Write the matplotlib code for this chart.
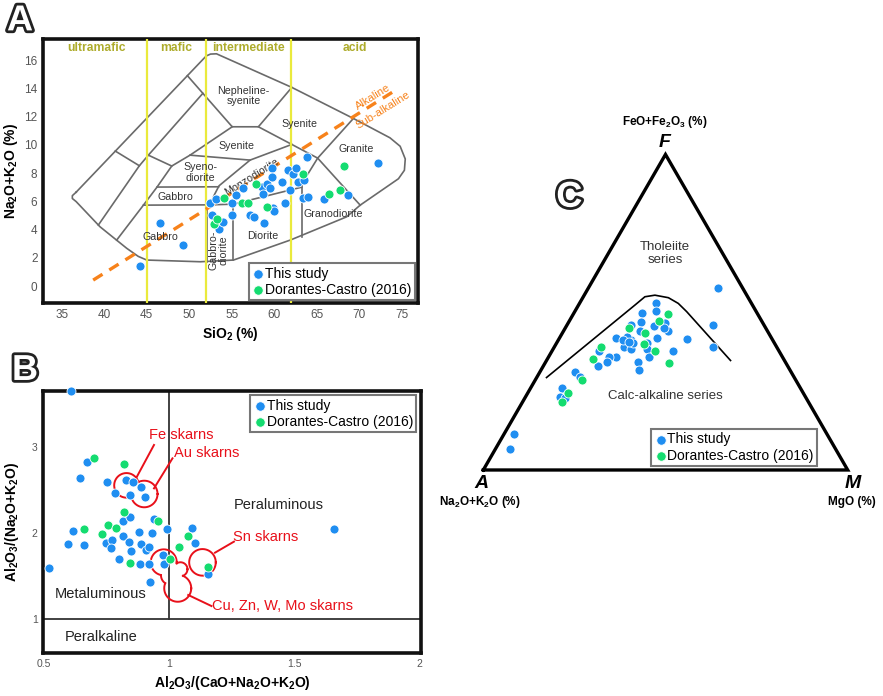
import numpy as np
import matplotlib
matplotlib.use("Agg")
import matplotlib.pyplot as plt
import matplotlib.patheffects as pe

plt.rcParams['font.family'] = ['Liberation Sans', 'DejaVu Sans']
plt.rcParams['mathtext.fontset'] = 'custom'
plt.rcParams['mathtext.rm'] = 'Liberation Sans'
plt.rcParams['mathtext.bf'] = 'Liberation Sans:bold'
plt.rcParams['mathtext.it'] = 'Liberation Sans:italic'

BLUE = '#1f8ef1'
GREEN = '#14dc70'
RED = '#e8101a'
ORANGE = '#f7821b'
YELLOW = '#eaea3c'
OLIVE = '#aeac2c'
LINE = '#6a6a6a'

# ---------------- data ----------------
# A: total alkali vs silica
tas_blue_sio2 = [44.2, 46.6, 49.3, 52.4, 53.15, 52.65, 53.55, 53.95, 55.0, 55.0,
                 55.5, 56.3, 57.15, 57.65, 58.75, 58.5, 58.7, 59.2, 59.45, 59.75,
                 59.75, 59.8, 60.0, 60.9, 61.25, 61.6, 61.85, 62.25, 62.6, 62.75,
                 63.55, 63.4, 63.9, 64.0, 65.8, 68.65, 72.2]
tas_blue_alk = [1.44, 4.44, 2.9, 5.85, 6.14, 5.0, 4.01, 4.55, 5.9, 5.05,
                6.44, 6.94, 5.03, 4.88, 4.48, 7.03, 6.49, 7.25, 6.95, 8.38,
                7.69, 5.5, 5.3, 7.4, 5.9, 8.21, 6.82, 7.95, 8.33, 7.34,
                7.52, 6.21, 9.11, 6.28, 6.16, 6.46, 8.73]
tas_green_sio2 = [54.05, 52.95, 53.3, 56.2, 56.95, 57.9, 59.1, 63.35, 66.45, 67.75, 68.2]
tas_green_alk = [6.23, 4.39, 4.72, 5.85, 5.87, 7.22, 5.57, 7.91, 6.51, 6.8, 8.52]

# TAS field boundaries (SiO2, Na2O+K2O)
tas_outer = [(36.7, 6.65), (52.0, 16.3), (52.5, 16.43), (53.2, 16.45), (62.06, 14.07),
             (69.3, 11.87), (73.6, 10.5), (74.8, 9.9), (75.4, 9.0), (75.3, 8.2),
             (74.6, 7.6), (70.1, 5.73), (68.5, 4.9), (61.9, 3.26), (55.2, 1.84),
             (51.3, 1.72), (45.0, 1.84), (44.0, 2.1), (42.65, 2.67), (39.5, 4.2),
             (36.7, 5.98), (36.25, 6.2), (36.25, 6.4), (36.7, 6.65)]
tas_inner = [
    [(49.78, 14.9), (55.05, 11.28), (58.13, 11.28), (62.06, 14.07)],
    [(58.13, 11.28), (62.06, 10.03), (65.1, 9.06), (69.3, 11.87)],
    [(65.1, 9.06), (70.1, 5.73)],
    [(55.05, 11.28), (50.09, 9.27), (47.94, 8.5), (46.21, 7.01), (44.61, 5.73), (41.47, 3.26)],
    [(51.6, 13.65), (45.19, 9.27), (44.13, 8.52), (39.31, 4.32)],
    [(41.3, 9.56), (44.13, 8.52)],
    [(45.19, 9.27), (47.94, 8.5)],
    [(50.09, 9.27), (57.15, 8.92), (62.06, 10.03)],
    [(57.15, 8.92), (53.5, 7.1), (52.9, 6.4), (52.5, 5.75)],
    [(46.21, 7.01), (53.45, 7.03)],
    [(44.61, 5.73), (52.5, 5.75), (55.2, 5.8), (63.2, 7.0)],
    [(55.2, 5.8), (55.2, 1.84)],
    [(52.06, 5.75), (52.06, 1.73)],
    [(63.2, 7.0), (63.2, 3.5)],
    [(65.1, 9.06), (63.4, 7.4), (63.2, 7.0)],
]
alk_line_sio2 = [38.7, 74.6]
alk_line_alk = [0.42, 14.0]
silica_limits = [45, 52, 62]

# B: Shand index
asi_blue_acnk = [0.607, 0.669, 0.643, 0.753, 0.785, 0.827, 0.856, 0.889, 0.845, 0.905,
                 0.816, 0.844, 0.939, 0.613, 0.594, 0.66, 0.749, 0.772, 0.766, 0.816,
                 0.84, 0.849, 0.8, 0.878, 0.886, 0.907, 0.92, 0.932, 0.991, 0.883,
                 0.919, 0.925, 0.975, 0.979, 1.093, 1.104, 1.156, 1.659, 0.52]
asi_blue_ank = [3.64, 2.822, 2.641, 2.592, 2.465, 2.614, 2.587, 2.529, 2.444, 2.421,
                2.139, 2.185, 2.165, 2.023, 1.871, 1.861, 1.89, 1.919, 1.832, 1.969,
                1.892, 1.791, 1.695, 2.01, 1.871, 1.799, 1.838, 2.0, 2.044, 1.637,
                1.646, 1.436, 1.745, 1.639, 2.056, 1.88, 1.527, 2.042, 1.6]
asi_green_acnk = [0.7, 0.82, 0.818, 0.756, 0.787, 0.732, 0.658, 0.955, 0.844, 1.003,
                  1.039, 1.074, 1.156]
asi_green_ank = [2.869, 2.805, 2.245, 2.095, 2.06, 1.985, 2.042, 2.143, 1.647, 1.701,
                 1.834, 1.965, 1.61]

# skarn fields: (A/CNK, A/NK, radius in px)
fe_au_fields = [(0.829, 2.552, 12.3), (0.90, 2.452, 13.3)]
sn_field = [(1.133, 1.66, 13.3)]
cu_field = [(0.978, 1.66, 13.0), (1.005, 1.51, 9.5), (1.045, 1.58, 7.0), (1.034, 1.36, 13.5)]

# C: AFM (percent)
afm_blue_F = [57.6, 46.0, 39.1, 41.4, 37.8, 52.8, 50.4, 49.7, 47.0, 45.7, 46.7, 44.2,
              44.9, 41.8, 44.2, 46.0, 41.2, 42.3, 41.8, 39.1, 38.3, 40.2, 40.2, 38.2,
              35.9, 34.1, 31.6, 35.7, 35.7, 34.1, 32.8, 37.8, 31.0, 29.6, 25.9, 23.0,
              22.7, 11.4, 6.6, 41.2, 40.7]
afm_blue_M = [35.7, 40.1, 43.4, 35.3, 33.1, 21.0, 22.2, 18.6, 19.9, 24.0, 26.5, 28.7,
              27.1, 26.9, 20.9, 17.5, 19.8, 18.2, 15.5, 19.1, 21.3, 21.1, 24.7, 25.7,
              27.5, 25.5, 26.9, 18.6, 16.7, 16.8, 15.0, 12.9, 9.7, 11.7, 8.6, 9.5,
              11.2, 2.7, 4.1, 17.8, 19.5]
afm_green_F = [49.3, 47.3, 43.5, 44.9, 39.8, 37.6, 33.8, 38.9, 35.1, 28.5, 24.5, 21.4]
afm_green_M = [26.1, 24.6, 22.7, 17.5, 24.2, 28.3, 34.1, 12.9, 12.5, 12.9, 11.1, 10.8]
afm_div_F = [29.3, 52.3, 54.9, 55.4, 54.6, 52.8, 50.2, 34.7]
afm_div_M = [2.7, 15.5, 16.9, 19.4, 23.5, 27.1, 30.7, 50.5]


def tern(F, M):
    F = np.asarray(F) / 100.0
    M = np.asarray(M) / 100.0
    return M + F / 2, F * np.sqrt(3) / 2


def union_outline(ax, circles, **kw):
    bb = ax.get_window_extent()
    x0, x1 = ax.get_xlim()
    y0, y1 = ax.get_ylim()
    sx = bb.width / (x1 - x0)
    sy = bb.height / (y1 - y0)
    t = np.linspace(0, 2 * np.pi, 721)
    for i, (cx, cy, r) in enumerate(circles):
        xs = cx + r * np.cos(t) / sx
        ys = cy + r * np.sin(t) / sy
        inside = np.zeros(t.size, bool)
        for j, (cx2, cy2, r2) in enumerate(circles):
            if j != i:
                inside |= ((xs - cx2) * sx) ** 2 + ((ys - cy2) * sy) ** 2 < r2 ** 2
        xs[inside] = np.nan
        ys[inside] = np.nan
        ax.plot(xs, ys, **kw)


def style_frame(ax):
    for s in ax.spines.values():
        s.set_linewidth(2.6)
        s.set_color('#111')
    ax.tick_params(length=0, labelcolor='#555', pad=4)


def add_legend(ax, **kw):
    leg = ax.legend(fontsize=10, frameon=True, fancybox=False, framealpha=1,
                    edgecolor='#777', handletextpad=0.05, handlelength=0.9,
                    borderpad=0.25, labelspacing=0.15, markerscale=1.05, **kw)
    leg.get_frame().set_linewidth(1.5)
    return leg


sc_kw = dict(s=42, edgecolors='white', linewidths=0.6, zorder=5, clip_on=False)

fig = plt.figure(figsize=(8.83, 6.96), dpi=100)

# ---------------- A ----------------
axA = fig.add_axes([0.0487, 0.5647, 0.4247, 0.3793])
axA.set_xlim(32.8, 76.9)
axA.set_ylim(-1.2, 17.5)
style_frame(axA)
axA.set_xticks(range(35, 80, 5))
axA.set_yticks(range(0, 18, 2))
axA.tick_params(labelsize=8.5)

ox, oy = zip(*tas_outer)
axA.plot(ox, oy, color=LINE, lw=1.2, zorder=2)
for seg in tas_inner:
    sx_, sy_ = zip(*seg)
    axA.plot(sx_, sy_, color=LINE, lw=1.2, zorder=2)
for xv in silica_limits:
    axA.axvline(xv, color=YELLOW, lw=1.6, zorder=3)
axA.plot(alk_line_sio2, alk_line_alk, color=ORANGE, lw=2.4, dashes=(3.3, 2.4), zorder=4)
axA.text(71.6, 13.4, 'Alkaline', color=ORANGE, fontsize=8, rotation=32,
         ha='center', va='center')
axA.text(72.8, 12.45, 'Sub-alkaline', color=ORANGE, fontsize=8, rotation=32,
         ha='center', va='center')

for lab, xx in zip(['ultramafic', 'mafic', 'intermediate', 'acid'], [39.1, 48.4, 56.9, 69.5]):
    axA.text(xx, 16.85, lab, color=OLIVE, fontsize=8.7, fontweight='bold',
             ha='center', va='center')

rk = dict(fontsize=7.7, color='#333', ha='center', va='center', zorder=4)
axA.text(56.4, 13.45, 'Nepheline-\nsyenite', linespacing=1.05, **rk)
axA.text(62.95, 11.47, 'Syenite', **rk)
axA.text(55.6, 9.93, 'Syenite', **rk)
axA.text(51.3, 8.05, 'Syeno-\ndiorite', linespacing=1.05, **rk)
axA.text(48.4, 6.32, 'Gabbro', **rk)
axA.text(57.3, 7.75, 'Monzodiorite', rotation=32, **rk)
axA.text(46.65, 3.45, 'Gabbro', **rk)
axA.text(53.45, 2.55, 'Gabbro-\ndiorite', rotation=90, linespacing=1.05, **rk)
axA.text(58.65, 3.56, 'Diorite', **rk)
axA.text(66.95, 5.1, 'Granodiorite', **rk)
axA.text(69.6, 9.68, 'Granite', **rk)

axA.scatter(tas_blue_sio2, tas_blue_alk, color=BLUE, label='This study', **sc_kw)
axA.scatter(tas_green_sio2, tas_green_alk, color=GREEN, label='Dorantes-Castro (2016)', **sc_kw)
add_legend(axA, loc='lower right', borderaxespad=0.2)
axA.set_xlabel(r'SiO$_\mathbf{2}$ (%)', fontsize=10, fontweight='bold', labelpad=3)
axA.set_ylabel(r'Na$_\mathbf{2}$O+K$_\mathbf{2}$O (%)', fontsize=10, fontweight='bold', labelpad=3)

# ---------------- B ----------------
axB = fig.add_axes([0.049, 0.0613, 0.4274, 0.3769])
axB.set_xlim(0.496, 2.006)
axB.set_ylim(0.606, 3.645)
style_frame(axB)
axB.set_xticks([0.5, 1, 1.5, 2])
axB.set_xticklabels(['0.5', '1', '1.5', '2'])
axB.set_yticks([1, 2, 3])
axB.tick_params(labelsize=7.5)
axB.axhline(1, color='#333', lw=1.3, zorder=2)
axB.plot([1, 1], [1, 3.645], color='#333', lw=1.3, zorder=2)

tk = dict(fontsize=10.5, color='#222', ha='center', va='center')
axB.text(1.44, 2.32, 'Peraluminous', **tk)
axB.text(0.727, 1.29, 'Metaluminous', **tk)
axB.text(0.727, 0.80, 'Peralkaline', **tk)

union_outline(axB, fe_au_fields, color=RED, lw=1.4, zorder=3)
union_outline(axB, sn_field, color=RED, lw=1.4, zorder=3)
union_outline(axB, cu_field, color=RED, lw=1.4, zorder=3)
axB.plot([0.867, 0.939], [2.633, 3.02], color=RED, lw=1.4)
axB.plot([0.939, 1.013], [2.517, 2.865], color=RED, lw=1.4)
axB.plot([1.183, 1.259], [1.772, 1.90], color=RED, lw=1.4)
axB.plot([1.076, 1.169], [1.282, 1.154], color=RED, lw=1.4)
rt = dict(fontsize=10.5, color=RED, ha='left', va='center')
axB.text(0.918, 3.14, 'Fe skarns', **rt)
axB.text(1.019, 2.925, 'Au skarns', **rt)
axB.text(1.256, 1.958, 'Sn skarns', **rt)
axB.text(1.173, 1.158, 'Cu, Zn, W, Mo skarns', **rt)

axB.scatter(asi_blue_acnk, asi_blue_ank, color=BLUE, label='This study', **sc_kw)
axB.scatter(asi_green_acnk, asi_green_ank, color=GREEN, label='Dorantes-Castro (2016)', **sc_kw)
add_legend(axB, loc='upper right', borderaxespad=0.3)
axB.set_xlabel(r'Al$_\mathbf{2}$O$_\mathbf{3}$/(CaO+Na$_\mathbf{2}$O+K$_\mathbf{2}$O)',
               fontsize=10, fontweight='bold', labelpad=4)
axB.set_ylabel(r'Al$_\mathbf{2}$O$_\mathbf{3}$/(Na$_\mathbf{2}$O+K$_\mathbf{2}$O)',
               fontsize=10, fontweight='bold', labelpad=8)

# ---------------- C ----------------
axC = fig.add_axes([0.4983, 0.2529, 0.5017, 0.6034])
axC.set_xlim(-0.1188, 1.0969)
axC.set_ylim(-0.1372, 1.0154)
axC.axis('off')
h = np.sqrt(3) / 2
axC.plot([0, 1, 0.5, 0], [0, 0, h, 0], color='black', lw=2.4,
         solid_joinstyle='miter', zorder=2)
dx, dy = tern(afm_div_F, afm_div_M)
axC.plot(dx, dy, color='black', lw=1.2, zorder=2)
bx, by = tern(afm_blue_F, afm_blue_M)
gx, gy = tern(afm_green_F, afm_green_M)
axC.scatter(bx, by, color=BLUE, label='This study', **sc_kw)
axC.scatter(gx, gy, color=GREEN, label='Dorantes-Castro (2016)', **sc_kw)
axC.text(0.4986, 0.595, 'Tholeiite\nseries', fontsize=9.5, color='#333',
         ha='center', va='center', linespacing=1.1)
axC.text(0.4986, 0.204, 'Calc-alkaline series', fontsize=9.5, color='#333',
         ha='center', va='center')
vk = dict(fontsize=14, fontweight='bold', fontstyle='italic', ha='center', va='center')
axC.text(0.4986, 0.898, 'F', **vk)
axC.text(-0.006, -0.036, 'A', **vk)
axC.text(1.014, -0.036, 'M', **vk)
sk = dict(fontsize=8.5, fontweight='bold', ha='center', va='center')
axC.text(0.4986, 0.956, r'FeO+Fe$_\mathbf{2}$O$_\mathbf{3}$ (%)', **sk)
axC.text(-0.009, -0.087, r'Na$_\mathbf{2}$O+K$_\mathbf{2}$O (%)', **sk)
axC.text(1.011, -0.087, 'MgO (%)', **sk)
add_legend(axC, loc='lower right', bbox_to_anchor=(0.8517, 0.1286), borderaxespad=0)

# panel letters
pk = dict(fontsize=26, fontweight='bold', color='white', ha='center', va='center',
          path_effects=[pe.withStroke(linewidth=4, foreground='#222')])
fig.text(0.0227, 0.970, 'A', **pk)
fig.text(0.0283, 0.4677, 'B', **pk)
fig.text(0.6447, 0.7165, 'C', **pk)

fig.savefig('out.png', dpi=100)
